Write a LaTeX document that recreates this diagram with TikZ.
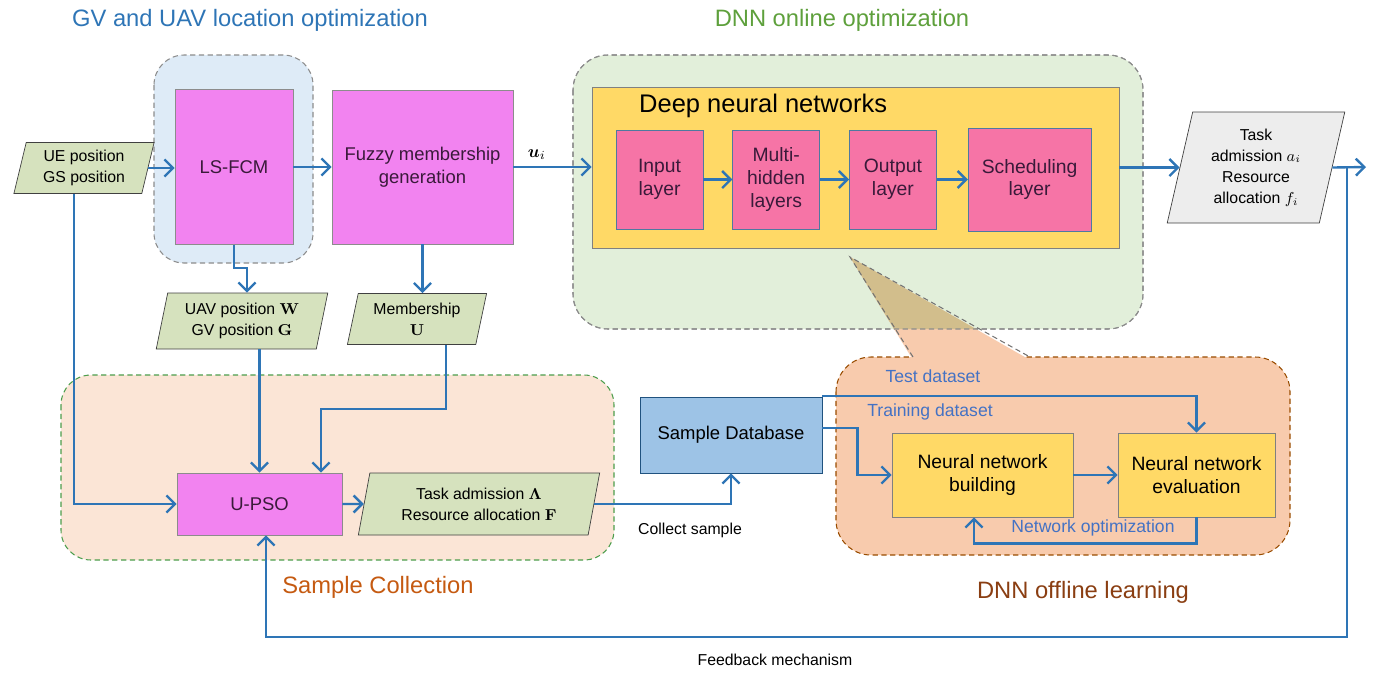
\documentclass[tikz,border=0pt]{standalone}
\usepackage{amsmath,amssymb}
\usepackage[no-math]{fontspec}
\setmainfont{Liberation Sans}
\usepackage{xcolor}
\usetikzlibrary{positioning,arrows.meta,shapes.geometric,calc}
\definecolor{flowblue}{HTML}{2E75B6}
\definecolor{textblue}{HTML}{4472C4}
\definecolor{locblue}{HTML}{DEEBF7}
\definecolor{onlinegreen}{HTML}{E2EFDA}
\definecolor{sampleorange}{HTML}{FBE5D6}
\definecolor{offorange}{HTML}{F8CBAD}
\definecolor{overlaptan}{HTML}{D2BE8C}
\definecolor{violetfill}{HTML}{F283F0}
\definecolor{layerpink}{HTML}{F674A6}
\definecolor{dnnyellow}{HTML}{FFD966}
\definecolor{datagreen}{HTML}{D6E2BE}
\definecolor{outgray}{HTML}{EDEDED}
\definecolor{dbblue}{HTML}{9DC3E6}
\definecolor{darkplum}{HTML}{3A1A3A}
\definecolor{ontitlegreen}{HTML}{5EA03C}
\definecolor{sctitleorange}{HTML}{C55A11}
\definecolor{offtitlebrown}{HTML}{8A3E12}
\tikzset{
procbox/.style={
draw=black!45,
fill=violetfill,
align=center,
text=darkplum,
font=\fontsize{10.5}{13}\selectfont
},
layerbox/.style={
draw=flowblue!60!gray,
fill=layerpink,
minimum width=17.4mm,
minimum height=19.8mm,
align=center,
text=darkplum,
font=\fontsize{11}{13}\selectfont
},
databox/.style={
trapezium,
trapezium left angle=77,
trapezium right angle=103,
trapezium stretches=true,
draw=black!75,
fill=datagreen,
align=center,
inner sep=1pt,
font=\fontsize{9}{12}\selectfont
},
learnbox/.style={
draw=black!50,
fill=dnnyellow,
align=center,
minimum height=16.8mm,
font=\fontsize{11}{13.5}\selectfont
},
region/.style={
rounded corners=6mm,
dashed,
dash pattern=on 3pt off 2pt,
line width=0.6pt
},
arrow/.style={
-{Straight Barb[length=1.7mm,width=3.4mm]},
line width=1.35pt,
draw=flowblue
},
flowlabel/.style={
text=textblue,
font=\fontsize{10}{12}\selectfont
},
smalltext/.style={
font=\fontsize{9}{11}\selectfont
},
title/.style={
font=\fontsize{13.5}{16}\selectfont
}
}
\begin{document}
\begin{tikzpicture}[x=0.2mm,y=-0.2mm]
\useasboundingbox (0,0) rectangle (1374,673);

% regions
\draw[region,draw=black!45,fill=locblue] (154,55) rectangle (313,263);
\draw[region,rounded corners=7mm,draw=black!45,fill=onlinegreen] (573,55) rectangle (1143,329);
\draw[region,draw=green!45!black!70,fill=sampleorange] (61,375) rectangle (614,560);
\draw[region,rounded corners=7mm,draw=orange!60!black,fill=offorange] (836,357) rectangle (1290,555);
\fill[offorange] (850,257) -- (913,360) -- (1030,360) -- cycle;
\begin{scope}
\clip[rounded corners=7mm] (573,55) rectangle (1143,329);
\fill[overlaptan] (850,257) -- (913,360) -- (1030,360) -- cycle;
\end{scope}
\draw[region,rounded corners=7mm,draw=black!45] (573,55) rectangle (1143,329);
\draw[dashed,dash pattern=on 3pt off 2pt,line width=0.6pt,draw=black!55] (913,357) -- (850,257) -- (1030,357);

% titles
\node[title,text=flowblue] (loctitle) at (250,20) {GV and UAV location optimization};
\node[title,text=ontitlegreen] (ontitle) at (842,20) {DNN online optimization};
\node[title,text=sctitleorange] (sctitle) at (378,587) {Sample Collection};
\node[title,text=offtitlebrown] (offtitle) at (1083,592) {DNN offline learning};

% location optimization
\node[databox,minimum width=28.2mm,minimum height=10.2mm] (uegs) at (84,168) {UE position\\GS position};
\node[procbox,minimum width=23.6mm,minimum height=31mm] (lsfcm) at (234,167) {LS-FCM};
\node[procbox,minimum width=36.2mm,minimum height=30.8mm] (fuzzy) at (422.5,167) {Fuzzy membership\\generation};
\node[databox,minimum width=34.4mm,minimum height=11.2mm] (uavgv) at (242,321) {UAV position $\mathbf{W}$\\GV position $\mathbf{G}$};
\node[databox,minimum width=28mm,minimum height=10.2mm] (member) at (417,319) {Membership\\$\mathbf{U}$};

% online DNN
\node[draw=black!50,fill=dnnyellow,minimum width=105.4mm,minimum height=32.2mm] (dnn) at (855.5,167.5) {};
\node[anchor=west,font=\fontsize{14.5}{17}\selectfont] (dnnlabel) at (633,106) {Deep neural networks};
\node[layerbox] (input) at (659.5,179.5) {Input\\layer};
\node[layerbox,right=5.8mm of input] (multi) {Multi-\\hidden\\layers};
\node[layerbox,right=5.8mm of multi] (outl) {Output\\layer};
\node[layerbox,right=6.2mm of outl,minimum width=24.6mm,minimum height=20.6mm] (sched) {Scheduling\\layer};
\node[databox,fill=outgray,minimum width=35.6mm,minimum height=22.2mm] (outai) at (1256,167.5) {Task\\admission $a_i$\\Resource\\allocation $f_i$};
\coordinate (outend) at (1366,167);
\coordinate (fbsplit) at (1347,167);
\coordinate (fbbase) at (1347,637);

% sample collection
\node[procbox,minimum width=33mm,minimum height=12.4mm] (upso) at (259.5,504) {U-PSO};
\node[databox,minimum width=48.4mm,minimum height=12.4mm] (taska) at (479,504) {Task admission $\mathbf{\Lambda}$\\Resource allocation $\mathbf{F}$};
\node[draw=flowblue!70!black,fill=dbblue,minimum width=36.4mm,minimum height=15.2mm,font=\fontsize{10.5}{13}\selectfont] (sampledb) at (731,435) {Sample Database};

% offline learning
\node[learnbox,minimum width=36.2mm] (nnbuild) at (982.5,475) {Neural network\\building};
\node[learnbox,minimum width=31.4mm] (nneval) at (1196.5,475) {Neural network\\evaluation};

% connectors
\draw[arrow] (uegs.east) -- (uegs.east -| lsfcm.west);
\draw[arrow] (lsfcm) -- (fuzzy);
\draw[arrow] (fuzzy.east) -- (fuzzy.east -| dnn.west) node[pos=0.3,above] {$\boldsymbol{u}_i$};
\foreach \x/\y in {input/multi,multi/outl,outl/sched}
\draw[arrow] (\x) -- (\y);
\draw[arrow] (dnn.east) -- (dnn.east -| outai.west);
\draw[arrow] (outai.east) -- (outend);
\draw[arrow] (fbsplit) -- (fbbase) -| ([xshift=1.3mm]upso.south);
\node[smalltext] (fblabel) at (775,660) {Feedback mechanism};
\draw[arrow] (lsfcm.south) -- ++(0,23) -| ([xshift=1mm]uavgv.north);
\draw[arrow] (fuzzy.south) -- (fuzzy.south |- member.north);
\draw[arrow] (uavgv.south -| upso.north) -- (upso.north);
\draw[arrow] ([xshift=5.8mm]member.south) -- ++(0,64) -| ([xshift=12.3mm]upso.north);
\draw[arrow] ([xshift=-2mm]uegs.south) |- (upso.west);
\draw[arrow] (upso) -- (taska);
\draw[arrow] (taska.east) -| (sampledb.south);
\node[smalltext] (collect) at (690,530) {Collect sample};
\draw[arrow] ([yshift=7.8mm]sampledb.east) -| (nneval.north);
\draw[arrow] ([yshift=1.4mm]sampledb.east) -- ++(35,0) |- (nnbuild.west);
\draw[arrow] (nnbuild) -- (nneval);
\draw[arrow] (nneval.south) -- ++(0,26) -| ([xshift=-1.7mm]nnbuild.south);
\node[flowlabel] (testlbl) at (933,376) {Test dataset};
\node[flowlabel] (trainlbl) at (930,412) {Training dataset};
\node[flowlabel] (optlbl) at (1093,528) {Network optimization};
\end{tikzpicture}
\end{document}
